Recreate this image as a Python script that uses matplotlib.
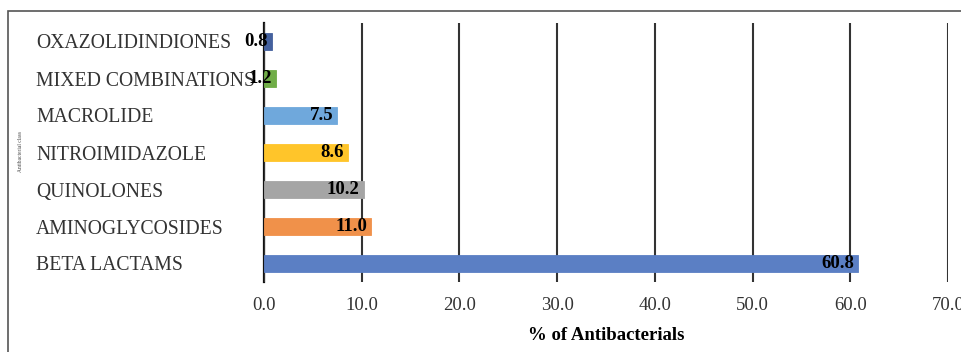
import matplotlib.pyplot as plt
from matplotlib.patches import Rectangle

plt.rcParams['font.family'] = ['Liberation Serif', 'DejaVu Serif']

# data, bottom to top
classes = ["BETA LACTAMS", "AMINOGLYCOSIDES", "QUINOLONES", "NITROIMIDAZOLE",
           "MACROLIDE", "MIXED COMBINATIONS", "OXAZOLIDINDIONES"]
percent = [60.8, 11.0, 10.2, 8.6, 7.5, 1.2, 0.8]
colors = ["#5b7fc4", "#f0914a", "#a5a5a5", "#ffc52a", "#6fa8dc", "#70ad47", "#44619e"]
xticks = [0, 10, 20, 30, 40, 50, 60, 70]

fig = plt.figure(figsize=(9.62, 3.52), dpi=100)
ax = fig.add_axes([264 / 962, 1 - 282 / 352, 684 / 962, 259 / 352])

# outer frame like the original picture
fig.patches.append(Rectangle((8 / 962, -0.1), 1.2, 1 - 11 / 352 + 0.1,
                             transform=fig.transFigure, fill=False,
                             edgecolor="#555555", linewidth=1.2))

pos = range(len(classes))
bars = ax.barh(pos, percent, height=0.46, color=colors, zorder=3,
               edgecolor=colors, linewidth=0.6)

for y, v in zip(pos, percent):
    ax.annotate(f"{v:.1f}", xy=(v, y), xytext=(-3, 0), textcoords="offset points",
                ha="right", va="center", fontsize=13.5, fontweight="bold", zorder=4)

ax.set_xlim(0, 70)
ax.set_ylim(-0.5, len(classes) - 0.5)
ax.set_xticks(xticks)
ax.set_xticklabels([f"{t:.1f}" for t in xticks], fontsize=13.5, color="#333333")
ax.set_yticks(list(pos))
ax.set_yticklabels(classes, fontsize=14.2, ha="left", color="#333333")
ax.tick_params(axis="y", length=0, pad=164)
ax.tick_params(axis="x", length=0, pad=11)

ax.grid(axis="x", color="#333333", linewidth=1.5, zorder=0)
for s in ["top", "right", "bottom"]:
    ax.spines[s].set_visible(False)
ax.spines["left"].set_color("#111111")
ax.spines["left"].set_linewidth(1.6)
ax.spines["left"].set_zorder(1)

ax.set_xlabel("% of Antibacterials", fontsize=13.5, fontweight="bold", labelpad=9)

# tiny, barely legible axis title at the far left
fig.text(21 / 962, 0.57, "Antibacterial class", rotation=90, fontsize=4,
         ha="center", va="center", color="#444444")

fig.savefig("out.png", dpi=100)
